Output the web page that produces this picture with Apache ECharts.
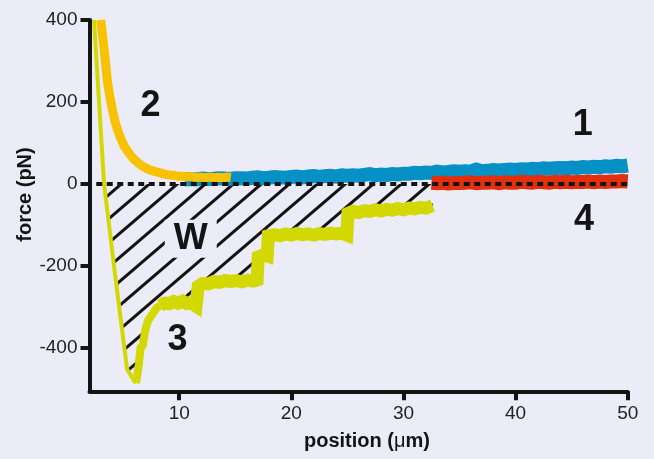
<!DOCTYPE html>
<html>
<head>
<meta charset="utf-8">
<script src="https://cdn.jsdelivr.net/npm/echarts@6/dist/echarts.min.js"></script>
<style>
html,body{margin:0;padding:0;background:#ecebf8;}
#chart{width:654px;height:459px;}
</style>
</head>
<body>
<div id="chart"></div>
<script>
// ---------- data ----------
const xTicks = [10, 20, 30, 40, 50];
const yTicks = [-400, -200, 0, 200, 400];

// trace 1 (blue), sampled every 0.5 um from 10.5 um
const blueStart = 10.5, blueStep = 0.5;
const blueForce = [
  11, 12, 11, 13, 12, 12, 14, 13, 12, 14,
  14, 13, 15, 16, 14, 15, 17, 16, 15, 17,
  18, 16, 18, 19, 17, 19, 20, 18, 21, 20,
  21, 20, 22, 24, 21, 23, 22, 24, 23, 25,
  25, 27, 26, 28, 27, 30, 28, 29, 31, 30,
  31, 30, 35, 31, 32, 34, 33, 34, 35, 34,
  36, 35, 37, 36, 38, 37, 38, 39, 38, 40,
  39, 41, 40, 42, 41, 43, 42, 44, 43, 45
];

// trace 4 (red), sampled every 0.5 um from 32.5 um
const redStart = 32.5, redStep = 0.5;
const redForce = [
  3, 2, 3, 1, 2, 2, 3, 4, 2, 3,
  3, 4, 2, 4, 3, 3, 5, 4, 3, 5,
  4, 3, 5, 4, 5, 4, 5, 5, 6, 4,
  6, 5, 6, 6, 7, 6
];

// trace 2 (orange) [position, force]
const orangeTrace = [
  [3.0,400],[3.15,365],[3.3,330],[3.45,290],[3.6,250],[3.8,215],[4.05,180],[4.3,150],
  [4.5,132],[4.8,110],[5.1,92],[5.5,76],[5.9,62],[6.3,52],[6.7,44],[7.1,38],[7.5,33],
  [7.9,30],[8.3,27],[8.7,24],[9.1,22],[9.5,21],[9.9,19],[10.3,19],[10.7,17],[11.1,18],
  [11.5,16],[11.9,17],[12.3,15],[12.7,17],[13.1,15],[13.5,16],[13.9,15],[14.3,17],[14.6,16]
];

// trace 3 (yellow-green) [position, force]
const greenDescent = [[2.4,400],[3.3,0],[4.3,-225],[5.35,-452],[5.75,-470],[6.15,-486]];
const greenClimb = [[6.15,-486],[6.4,-440],[6.55,-400],[6.75,-395],[6.95,-360],[7.2,-335],[7.6,-318],[8.0,-302],[8.3,-297]];
const greenSteps = [
  [8.3,-297],[8.7,-291],[9.1,-292],[9.5,-287],[9.9,-291],[10.3,-286],[10.7,-292],[11.1,-291],
  [11.5,-298],[11.62,-296],[11.7,-250],[12.1,-243],[12.6,-244],[13.1,-238],[13.6,-240],[14.1,-236],
  [14.6,-238],[15.1,-236],[15.6,-239],[16.1,-235],[16.6,-237],[16.95,-234],[17.05,-178],[17.5,-173],
  [17.85,-176],[17.95,-127],[18.5,-124],[19.0,-126],[19.5,-122],[20.0,-125],[20.5,-121],[21.0,-124],
  [21.5,-122],[22.0,-125],[22.5,-121],[23.0,-123],[23.5,-120],[24.0,-122],[24.5,-120],[24.95,-125],
  [25.05,-72],[25.5,-67],[26.0,-70],[26.5,-65],[27.0,-67],[27.5,-63],[28.0,-66],[28.5,-62],
  [29.0,-64],[29.5,-60],[30.0,-63],[30.5,-59],[31.0,-61],[31.5,-57],[32.0,-59],[32.6,-53]
];

// annotation labels
const labelNames = ['1', '2', '3', '4', 'W'];
const labelPos = [[46.0, 143], [7.45, 189], [9.86, -380], [46.1, -89], [11.03, -134]];

// ---------- build ----------
const BG = '#ecebf8';
const INK = '#141414';
const blueData = blueForce.map((v, i) => [blueStart + i * blueStep, v]);
const redData = redForce.map((v, i) => [redStart + i * redStep, v]);
const greenAll = greenDescent.concat(greenClimb.slice(1), greenSteps.slice(1));
const hatchData = greenAll.filter(p => p[1] <= 0);

function makeHatch() {
  const w = 28, h = 24;
  const c = document.createElement('canvas');
  c.width = w; c.height = h;
  const ctx = c.getContext('2d');
  ctx.strokeStyle = INK; ctx.lineWidth = 3;
  for (let k = -1; k <= 1; k++) {
    ctx.beginPath();
    ctx.moveTo(k * w - w, 2 * h);
    ctx.lineTo(k * w + 2 * w, -h);
    ctx.stroke();
  }
  return c;
}

const FONT = "'Liberation Sans', Arial, Helvetica, sans-serif";
function lineSeries(data, color, width, extra) {
  return Object.assign({
    type: 'line', data: data, showSymbol: false, symbol: 'none', silent: true,
    lineStyle: { color: color, width: width, cap: 'butt', join: 'miter' }
  }, extra || {});
}

const chart = echarts.init(document.getElementById('chart'));
chart.setOption({
  animation: false,
  backgroundColor: BG,
  grid: { left: 89.5, right: 26.3, top: 20, bottom: 67.7, containLabel: false },
  xAxis: {
    type: 'value', min: 2, max: 50,
    axisLine: { onZero: false, lineStyle: { color: INK, width: 4 } },
    axisTick: { show: true, length: 9, lineStyle: { color: INK, width: 4 }, customValues: xTicks },
    axisLabel: { margin: 13, fontSize: 19, color: '#222', fontFamily: FONT, customValues: xTicks },
    splitLine: { show: false }
  },
  yAxis: {
    type: 'value', min: -506, max: 400,
    axisLine: { show: true, onZero: false, lineStyle: { color: INK, width: 4 } },
    axisTick: { show: true, length: 9, lineStyle: { color: INK, width: 4 }, customValues: yTicks },
    axisLabel: { margin: 12, fontSize: 19, color: '#222', fontFamily: FONT, customValues: yTicks },
    splitLine: { show: false }
  },
  series: [
    lineSeries(hatchData, 'rgba(0,0,0,0)', 0, {
      areaStyle: { color: { image: makeHatch(), repeat: 'repeat' }, opacity: 1 }
    }),
    lineSeries(greenDescent, '#d2d800', 4),
    lineSeries(greenClimb, '#d2d800', 8),
    lineSeries(greenSteps, '#d2d800', 13),
    lineSeries(blueData, '#0590c6', 14),
    lineSeries(redData, '#e2300c', 14),
    lineSeries(orangeTrace, '#f8c200', 9),
    lineSeries([[2.6, 0], [50, 0]], INK, 4, { lineStyle: { color: INK, width: 4, type: [6, 4.5], cap: 'butt' } })
  ]
});

// text annotations placed at data coordinates
const graphics = [];
labelPos.forEach((p, i) => {
  const px = chart.convertToPixel({ xAxisIndex: 0, yAxisIndex: 0 }, p);
  if (labelNames[i] === 'W') {
    graphics.push({
      type: 'rect', shape: { x: px[0] - 26, y: px[1] - 19, width: 52, height: 38 },
      style: { fill: BG }, z: 100
    });
  }
  graphics.push({
    type: 'text', x: px[0], y: px[1], z: 101,
    style: {
      text: labelNames[i], fontSize: 36, fontWeight: 'bold', fontFamily: FONT,
      fill: INK, align: 'center', verticalAlign: 'middle'
    }
  });
});
graphics.push({
  type: 'text', left: 304, top: 431, z: 101,
  style: {
    text: '{b|position (}{u|\u03bc}{b|m)}',
    rich: {
      b: { fontSize: 20, fontWeight: 'bold', fontFamily: FONT, fill: INK },
      u: { fontSize: 20, fontWeight: 'normal', fontFamily: FONT, fill: INK }
    }
  }
});
graphics.push({
  type: 'text', x: 25, y: 194.5, rotation: Math.PI / 2, z: 101,
  style: {
    text: 'force (pN)', fontSize: 20, fontWeight: 'bold', fontFamily: FONT, fill: INK,
    align: 'center', verticalAlign: 'middle'
  }
});
chart.setOption({ graphic: graphics });
</script>
</body>
</html>
